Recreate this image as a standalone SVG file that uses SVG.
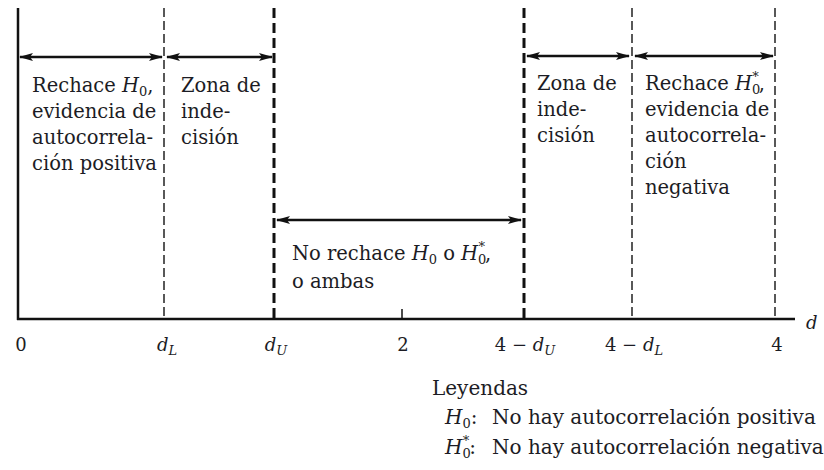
<svg xmlns="http://www.w3.org/2000/svg" width="824" height="470" viewBox="0 0 824 470">
<style>
.t{font-family:"DejaVu Serif","Liberation Serif",serif;font-size:19.5px;fill:#1c1c24}
.ax{font-family:"DejaVu Serif","Liberation Serif",serif;font-size:18px;fill:#1c1c24}
.lg{font-family:"DejaVu Serif","Liberation Serif",serif;font-size:20px;fill:#1c1c24}
.i{font-style:italic}
.sub{font-size:13px}
.thin{stroke:#222;stroke-width:1.5;stroke-dasharray:9 4;fill:none}
.thick{stroke:#111;stroke-width:3;stroke-dasharray:10 5;fill:none}
.arr{stroke:#111;stroke-width:2.5;fill:none;marker-start:url(#ah);marker-end:url(#ah)}
</style>
<defs>
<marker id="ah" viewBox="0 0 14 8" refX="13" refY="4" markerWidth="14" markerHeight="8" orient="auto-start-reverse" markerUnits="userSpaceOnUse">
<path d="M0,0 L14,4 L0,8 L3,4 z" fill="#111"/>
</marker>
</defs>
<rect width="824" height="470" fill="#fff"/>
<g id="axis">
<line x1="18" y1="8" x2="18" y2="320" stroke="#111" stroke-width="2.5"/>
<line x1="17" y1="319" x2="795" y2="319" stroke="#111" stroke-width="2.5"/>
<line x1="402" y1="309" x2="402" y2="319" stroke="#111" stroke-width="1.5"/>
<line class="thin" x1="164" y1="8" x2="164" y2="319"/>
<line class="thick" x1="274" y1="8" x2="274" y2="319"/>
<line class="thick" x1="524" y1="8" x2="524" y2="319"/>
<line class="thin" x1="632" y1="8" x2="632" y2="319"/>
<line class="thin" x1="775" y1="8" x2="775" y2="319"/>
<text class="ax" x="21" y="351" text-anchor="middle">0</text>
<text class="ax" x="167" y="351" text-anchor="middle"><tspan class="i">d</tspan><tspan class="sub i" dy="4">L</tspan></text>
<text class="ax" x="276" y="351" text-anchor="middle"><tspan class="i">d</tspan><tspan class="sub i" dy="4">U</tspan></text>
<text class="ax" x="403" y="351" text-anchor="middle">2</text>
<text class="ax" x="525" y="351" text-anchor="middle">4 − <tspan class="i">d</tspan><tspan class="sub i" dy="4">U</tspan></text>
<text class="ax" x="634" y="351" text-anchor="middle">4 − <tspan class="i">d</tspan><tspan class="sub i" dy="4">L</tspan></text>
<text class="ax" x="777" y="351" text-anchor="middle">4</text>
<text class="ax i" x="806" y="329">d</text>
</g>
<g id="connectors">
<line class="arr" x1="20" y1="57" x2="162" y2="57"/>
<line class="arr" x1="167" y1="57" x2="272" y2="57"/>
<line class="arr" x1="527" y1="56" x2="629" y2="56"/>
<line class="arr" x1="635" y1="56" x2="773" y2="56"/>
<line class="arr" x1="277" y1="220" x2="521" y2="220"/>
</g>
<g id="reject-pos">
<text class="t" x="32" y="92">Rechace <tspan class="i">H</tspan><tspan class="sub" dy="4">0</tspan><tspan dy="-4">,</tspan></text>
<text class="t" x="32" y="118">evidencia de</text>
<text class="t" x="32" y="144">autocorrela-</text>
<text class="t" x="32" y="170">ción positiva</text>
</g>
<g id="indecision-left">
<text class="t" x="181" y="92">Zona de</text>
<text class="t" x="181" y="118">inde-</text>
<text class="t" x="181" y="144">cisión</text>
</g>
<g id="indecision-right">
<text class="t" x="537" y="90">Zona de</text>
<text class="t" x="537" y="116">inde-</text>
<text class="t" x="537" y="142">cisión</text>
</g>
<g id="reject-neg">
<text class="t" x="645" y="90">Rechace <tspan class="i">H</tspan><tspan class="sub" dy="4">0</tspan><tspan class="sub" dx="-8" dy="-13">*</tspan><tspan dy="9">,</tspan></text>
<text class="t" x="645" y="116">evidencia de</text>
<text class="t" x="645" y="142">autocorrela-</text>
<text class="t" x="645" y="168">ción</text>
<text class="t" x="645" y="194">negativa</text>
</g>
<g id="no-reject">
<text class="t" x="292" y="260">No rechace <tspan class="i">H</tspan><tspan class="sub" dy="4">0</tspan><tspan dy="-4"> o </tspan><tspan class="i">H</tspan><tspan class="sub" dy="4">0</tspan><tspan class="sub" dx="-8" dy="-13">*</tspan><tspan dy="9">,</tspan></text>
<text class="t" x="292" y="288">o ambas</text>
</g>
<g id="legend">
<text class="lg" x="432" y="395">Leyendas</text>
<text class="lg" x="445" y="424"><tspan class="i">H</tspan><tspan class="sub" dy="4">0</tspan><tspan dy="-4">:</tspan></text>
<text class="lg" x="492" y="424">No hay autocorrelación positiva</text>
<text class="lg" x="445" y="454"><tspan class="i">H</tspan><tspan class="sub" dy="4">0</tspan><tspan class="sub" dx="-8" dy="-13">*</tspan><tspan dy="9">:</tspan></text>
<text class="lg" x="492" y="454">No hay autocorrelación negativa</text>
</g>
</svg>
